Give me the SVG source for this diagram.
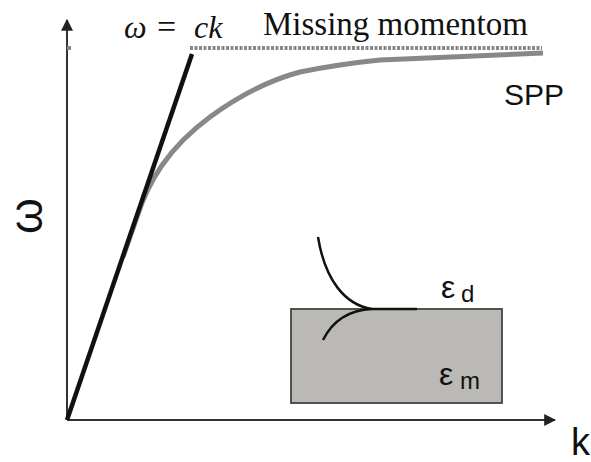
<svg xmlns="http://www.w3.org/2000/svg" width="591" height="462" viewBox="0 0 591 462">
<style>
.sans{font-family:"Liberation Sans",Arial,sans-serif;fill:#111}
.serif{font-family:"Liberation Serif","Times New Roman",serif;fill:#111}
.axis{stroke:#333;stroke-width:2;fill:none}
</style>
<defs>
<marker id="ah" viewBox="0 0 10 10" refX="9" refY="5" markerWidth="12" markerHeight="12" markerUnits="userSpaceOnUse" orient="auto">
<path d="M0,0 L10,5 L0,10 Z" fill="#222"/>
</marker>
</defs>
<rect width="591" height="462" fill="#fff"/>
<g id="connectors">
<line class="axis" x1="67" y1="420" x2="67" y2="20" marker-end="url(#ah)"/>
<line class="axis" x1="67" y1="420" x2="555" y2="420" marker-end="url(#ah)"/>
<line x1="67" y1="48" x2="71" y2="48" stroke="#888" stroke-width="4"/>
<line x1="190" y1="48" x2="542" y2="48" stroke="#888" stroke-width="4" stroke-dasharray="3,1.5"/>
<path d="M123,257 L137,217 C148,182 168,148 210,117 C240,95 270,80 300,72 C330,66 350,63 380,60 L543,53" stroke="#888" stroke-width="5" fill="none"/>
<line x1="67" y1="420" x2="192" y2="54" stroke="#111" stroke-width="4.5"/>
</g>
<g id="inset">
<rect x="291" y="309" width="211" height="94" fill="#bab9b5" stroke="#444" stroke-width="1.8"/>
<path d="M318,237 C325,280 345,305 372,309 L417,309" stroke="#111" stroke-width="2.5" fill="none"/>
<path d="M323,340 C333,320 350,310 372,309" stroke="#111" stroke-width="2.5" fill="none"/>
<text class="sans" x="441" y="298" font-size="32">ε</text>
<text class="sans" x="461" y="302" font-size="24">d</text>
<text class="sans" x="439" y="385" font-size="32">ε</text>
<text class="sans" x="460" y="389" font-size="24">m</text>
</g>
<g id="labels">
<text class="serif" x="124" y="38" font-size="32" font-style="italic">ω</text>
<text class="serif" x="157" y="38" font-size="34">=</text>
<text class="serif" x="194" y="38" font-size="32" font-style="italic">ck</text>
<text class="serif" x="263" y="35" font-size="33">Missing momentom</text>
<text class="sans" x="504" y="105" font-size="30">SPP</text>
<text class="sans" x="0" y="0" font-size="46" transform="translate(42,216) rotate(-90)" text-anchor="middle">ω</text>
<text class="sans" x="571" y="455" font-size="38">k</text>
</g>
</svg>
